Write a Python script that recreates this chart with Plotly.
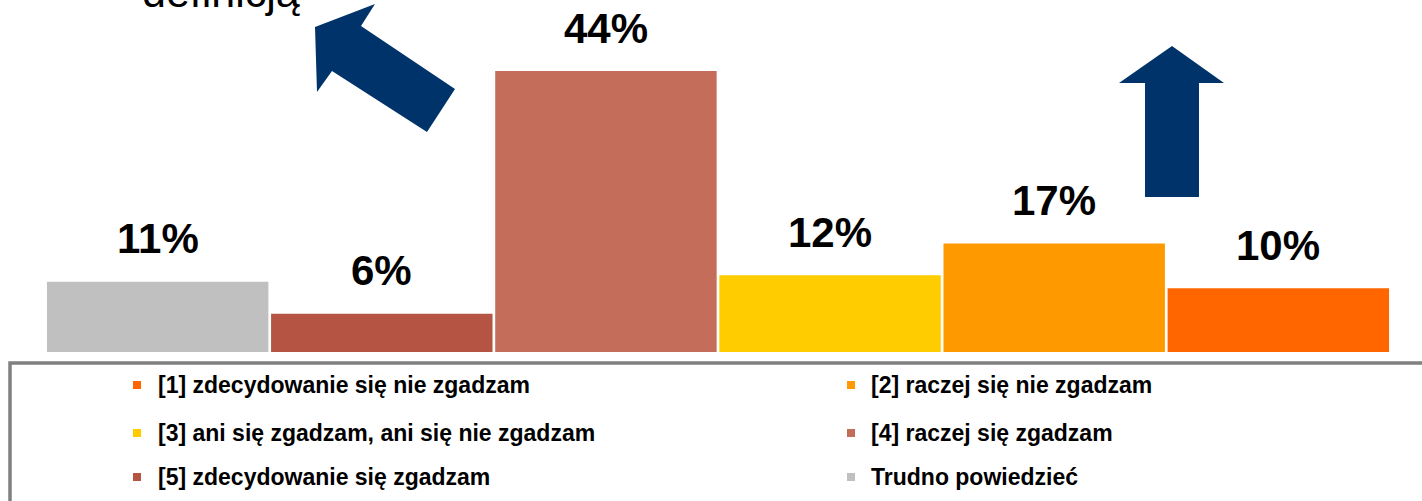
import plotly.graph_objects as go

W, H = 1422, 501

categories = [
    "Trudno powiedzieć",
    "[5] zdecydowanie się zgadzam",
    "[4] raczej się zgadzam",
    "[3] ani się zgadzam, ani się nie zgadzam",
    "[2] raczej się nie zgadzam",
    "[1] zdecydowanie się nie zgadzam",
]
values = [11, 6, 44, 12, 17, 10]
bar_colors = ["#C0C0C0", "#B55442", "#C46D5B", "#FFCC00", "#FF9900", "#FF6600"]
value_labels = [f"{v}%" for v in values]

# legend layout: rows of (left, right) category indices
legend_rows = [(5, 4), (3, 2), (1, 0)]

top_text = "definicją"
ARROW = "#00336A"
FONT = "Liberation Sans, Arial, sans-serif"


def px(x):
    return x / W


def py(y):
    return 1 - y / H


base_px = 352
px_per_pct = 6.386
y_top = base_px / px_per_pct

fig = go.Figure()
fig.add_trace(go.Bar(
    x=list(range(len(categories))),
    y=values,
    marker=dict(color=bar_colors, line=dict(width=0)),
    hoverinfo="skip",
    showlegend=False,
))

annotations = []
for i, (v, lab) in enumerate(zip(values, value_labels)):
    annotations.append(dict(
        x=i, y=v, xref="x", yref="y", text=lab, showarrow=False,
        yanchor="middle", yshift=43,
        font=dict(family=FONT, size=42, color="#000000", weight="bold"),
    ))

annotations.append(dict(
    x=px(221), y=py(-8), xref="paper", yref="paper", text=top_text,
    showarrow=False, xanchor="center", yanchor="middle",
    font=dict(family=FONT, size=43, color="#000000"),
))

shapes = []
# legend box
shapes.append(dict(type="rect", xref="paper", yref="paper",
                   x0=px(10), x1=px(1440), y0=py(363), y1=py(520),
                   line=dict(color="#808080", width=3.5), fillcolor="rgba(0,0,0,0)"))

row_y = [385, 433, 477]
col_marker_x = [137, 851]
col_text_x = [156, 869]
for r, row in enumerate(legend_rows):
    for c, idx in enumerate(row):
        mx, my = col_marker_x[c], row_y[r]
        shapes.append(dict(type="rect", xref="paper", yref="paper",
                           x0=px(mx - 4), x1=px(mx + 4), y0=py(my + 4), y1=py(my - 4),
                           line=dict(width=0), fillcolor=bar_colors[idx]))
        annotations.append(dict(
            x=px(col_text_x[c]), y=py(row_y[r]), xref="paper", yref="paper",
            text=categories[idx], showarrow=False, xanchor="left", yanchor="middle",
            font=dict(family=FONT, size=23, color="#000000", weight="bold"),
        ))


def poly(points):
    d = "M " + " L ".join(f"{px(x):.5f},{py(y):.5f}" for x, y in points) + " Z"
    return d


left_arrow = [(315, 27), (375, 4), (361, 26), (455, 89), (427, 132), (332, 71), (317, 92)]
right_arrow = [(1172, 46), (1224, 83), (1199, 83), (1199, 197), (1145, 197), (1145, 83), (1119, 83)]
for pts in (left_arrow, right_arrow):
    shapes.append(dict(type="path", xref="paper", yref="paper", path=poly(pts),
                       fillcolor=ARROW, line=dict(width=0)))

fig.update_layout(
    width=W, height=H,
    margin=dict(l=0, r=0, t=0, b=0),
    paper_bgcolor="white", plot_bgcolor="white",
    bargap=0.012,
    xaxis=dict(domain=[px(45.6), px(1390.4)], range=[-0.5, 5.5], visible=False),
    yaxis=dict(domain=[py(base_px), 1], range=[0, y_top], visible=False),
    annotations=annotations,
    shapes=shapes,
)

fig.write_html(
    "out.html",
    config={"displayModeBar": False},
    post_script="document.body.style.margin='0';document.body.style.overflow='hidden';",
)
